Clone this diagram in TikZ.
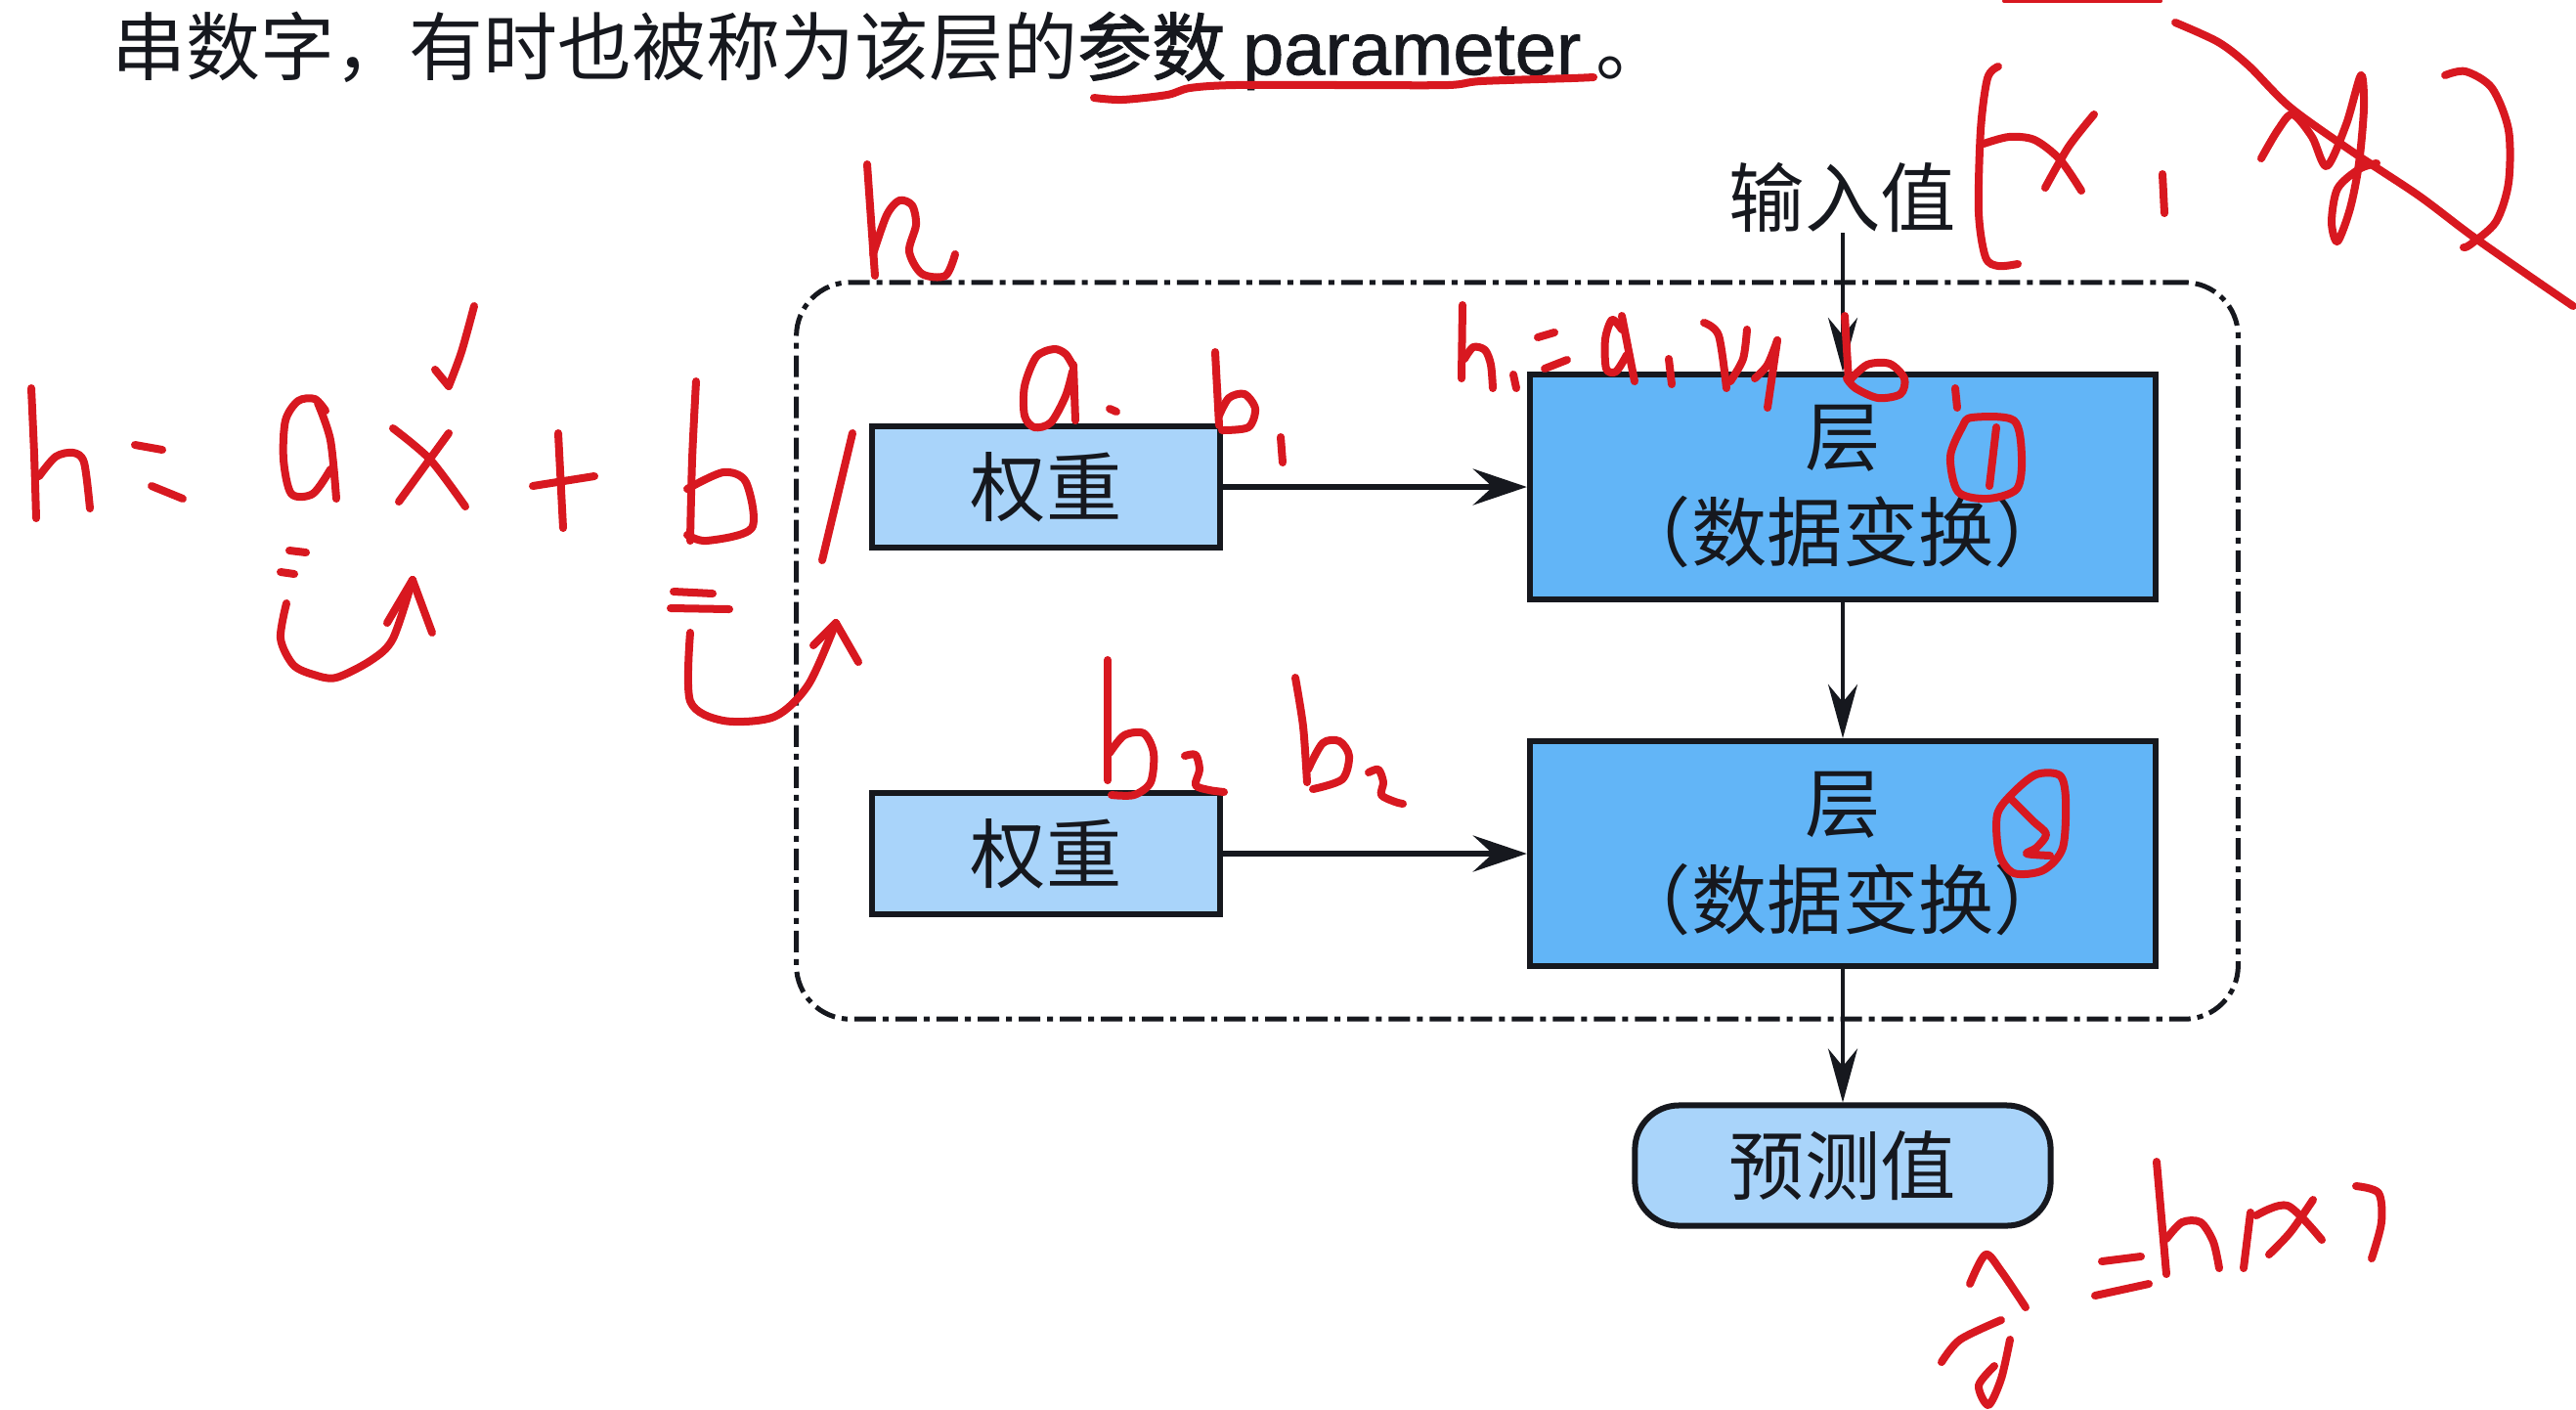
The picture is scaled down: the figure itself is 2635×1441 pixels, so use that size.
\documentclass[tikz,border=0pt]{standalone}
\usepackage{fontspec}
\setmainfont{Noto Sans CJK SC}
\newfontfamily\cjkbold[FakeBold=1.3]{Noto Sans CJK SC}
\newfontfamily\latinbold[FakeBold=1.0]{Liberation Sans}
\usetikzlibrary{arrows.meta}
\definecolor{lightblue}{RGB}{169,212,250}
\definecolor{midblue}{RGB}{98,181,247}
\definecolor{penred}{RGB}{216,24,32}
\definecolor{ink}{RGB}{22,24,30}
\begin{document}
\begin{tikzpicture}[x=0.01cm,y=-0.01cm,
  box/.style={draw=ink, line width=0.06cm, inner sep=0pt, text=ink, font=\fontsize{22}{27.9}\selectfont, align=center},
  wbox/.style={box, fill=lightblue, minimum width=3.55cm, minimum height=1.23cm},
  lbox/.style={box, fill=midblue, minimum width=6.4cm, minimum height=2.3cm},
  pbox/.style={box, fill=lightblue, minimum width=4.25cm, minimum height=1.23cm, rounded corners=0.45cm},
  group/.style={draw=ink, line width=0.05cm, dash pattern=on 0.22cm off 0.07cm on 0.06cm off 0.07cm, rounded corners=0.55cm, minimum width=14.74cm, minimum height=7.53cm},
  arr/.style={draw=ink, line width=0.035cm, -{Stealth[length=0.55cm,width=0.3cm,inset=0.18cm]}},
  harr/.style={draw=ink, line width=0.06cm, -{Stealth[length=0.55cm,width=0.37cm,inset=0.2cm]}},
  pen/.style={draw=penred, line width=0.08cm, line cap=round, line join=round},
  lbl/.style={text=ink, inner sep=0pt, font=\fontsize{22}{27.9}\selectfont},
]
\useasboundingbox (0,0) rectangle (2635,1441);
\fill[white] (0,0) rectangle (2635,1441);

% top line of text
\node[anchor=west, inner sep=0pt, text=ink, font=\fontsize{21.6}{26}\selectfont] (top) at (114,52) {串数字，有时也被称为该层的{\cjkbold 参数} {\latinbold parameter}\kern0.2em 。};

% diagram
\node[group] (grp) at (1552,665.5) {};
\node[wbox] (w1) at (1070,498) {权重};
\node[wbox] (w2) at (1070,873) {权重};
\node[lbox] (l1) at (1885,498) {层\\（数据变换）};
\node[lbox] (l2) at (1885,873) {层\\（数据变换）};
\node[pbox] (pred) at (1885,1192) {预测值};
\node[lbl] (inp) at (1885,202) {输入值};

\draw[arr] (inp) -- (l1);
\draw[arr] (l1) -- (l2);
\draw[arr] (l2) -- (pred);
\draw[harr] (w1) -- (l1);
\draw[harr] (w2) -- (l2);

% ---------- red handwriting ----------
% underline
\draw[pen] plot[smooth] coordinates {(1119,100)(1148,102)(1194,97)(1217,90)(1263,87)(1378,87)(1481,87)(1515,83)(1607,80)(1630,79)};
\draw[pen, line width=0.04cm] (2050,1) -- (2210,1);

% (x, y) crossed
\draw[pen] plot[smooth] coordinates {(2044,68)(2033,80)(2026,133)(2024,217)(2031,263)(2044,272)(2064,270)};
\draw[pen] plot[smooth] coordinates {(2029,147)(2055,140)(2081,143)(2107,163)(2129,195)};
\draw[pen] plot[smooth] coordinates {(2142,117)(2116,150)(2092,192)};
\draw[pen] (2212,178) -- (2214,218);
\draw[pen] plot[smooth, tension=0.5] coordinates {(2313,162)(2330,133)(2345,117)(2365,140)(2380,170)(2400,127)(2415,77)(2418,110)(2413,167)(2404,213)(2391,247)(2385,227)(2391,193)(2413,173)(2431,167)};
\draw[pen] plot[smooth] coordinates {(2501,77)(2522,73)(2549,90)(2566,133)(2566,187)(2553,227)(2527,250)(2520,253)};
\draw[pen] plot[smooth] coordinates {(2225,23)(2269,43)(2300,67)(2343,110)(2409,157)(2474,200)(2527,240)(2584,280)(2632,313)};

% h above group box
\draw[pen] (887,168) -- (895,282);
\draw[pen] plot[smooth] coordinates {(893,260)(907,220)(920,205)(933,210)(937,230)(930,257)(943,280)(967,282)(977,260)};

% h = a x + b
\draw[pen] plot[smooth] coordinates {(32,397)(35,465)(37,530)};
\draw[pen] plot[smooth] coordinates {(40,487)(57,467)(75,463)(86,473)(92,520)};
\draw[pen] (138,455) -- (166,460);
\draw[pen] (155,497) -- (187,510);
\draw[pen] plot[smooth] coordinates {(333,420)(322,408)(305,410)(292,430)(290,470)(298,505)(320,505)(338,480)};
\draw[pen] plot[smooth] coordinates {(325,412)(338,450)(344,510)};
\draw[pen] plot[smooth] coordinates {(402,438)(440,470)(476,518)};
\draw[pen] (459,443) -- (408,513);
\draw[pen] plot[smooth] coordinates {(485,313)(472,360)(459,395)};
\draw[pen] (459,395) -- (445,378);
\draw[pen] (571,443) -- (576,540);
\draw[pen] (545,497) -- (608,487);
\draw[pen] plot[smooth] coordinates {(712,390)(708,470)(706,553)};
\draw[pen] plot[smooth] coordinates {(703,500)(740,483)(763,493)(769,540)(723,553)(703,547)};
\draw[pen] (872,443) -- (841,573);
% under a
\draw[pen] (296,563) -- (313,565);
\draw[pen] (287,585) -- (301,587);
\draw[pen] plot[smooth] coordinates {(293,617)(287,653)(300,680)(321,690)(344,693)(380,675)(402,653)(422,593)};
\draw[pen] (422,593) -- (396,637);
\draw[pen] (422,593) -- (442,647);
% under b
\draw[pen] (689,605) -- (729,607);
\draw[pen] (686,622) -- (746,623);
\draw[pen] plot[smooth] coordinates {(706,647)(706,717)(740,737)(792,733)(827,700)(855,637)};
\draw[pen] (855,637) -- (832,660);
\draw[pen] (855,637) -- (878,677);

% a. b, above first weight box
\draw[pen] plot[smooth] coordinates {(1098,375)(1090,362)(1078,357)(1060,365)(1048,395)(1048,425)(1058,437)(1075,432)(1090,405)(1097,380)};
\draw[pen] (1098,373) -- (1100,430);
\draw[pen] (1135,418) -- (1142,421);
\draw[pen] (1243,360) -- (1247,435);
\draw[pen] plot[smooth] coordinates {(1247,425)(1257,407)(1273,403)(1284,418)(1277,437)(1250,440)};
\draw[pen] (1310,447) -- (1312,473);

% h1 = a1 x1 b1
\draw[pen] (1496,312) -- (1495,387);
\draw[pen] plot[smooth] coordinates {(1498,367)(1507,355)(1519,358)(1525,373)(1527,397)};
\draw[pen] (1548,383) -- (1551,397);
\draw[pen] (1573,345) -- (1590,340);
\draw[pen] (1580,377) -- (1603,368);
\draw[pen] plot[smooth] coordinates {(1659,337)(1649,327)(1642,347)(1643,377)(1653,380)(1664,363)};
\draw[pen] (1659,323) -- (1672,390);
\draw[pen] (1707,367) -- (1710,393);
\draw[pen] plot[smooth] coordinates {(1743,330)(1758,343)(1766,397)};
\draw[pen] plot[smooth] coordinates {(1787,337)(1783,367)(1770,390)};
\draw[pen] plot[smooth] coordinates {(1795,387)(1808,373)(1818,348)};
\draw[pen] (1818,348) -- (1808,417);
\draw[pen] (1887,323) -- (1891,390);
\draw[pen] plot[smooth] coordinates {(1891,390)(1910,373)(1933,372)(1948,387)(1944,403)(1921,407)(1898,397)(1889,387)};
\draw[pen] (2000,397) -- (2002,417);

% circled 1 and 2
\draw[pen] plot[smooth cycle] coordinates {(2017,427)(2060,430)(2068,467)(2063,500)(2033,510)(2003,503)(1995,467)(2007,437)};
\draw[pen] (2042,437) -- (2035,497);
\draw[pen] plot[smooth cycle] coordinates {(2060,810)(2083,792)(2107,793)(2113,817)(2110,867)(2090,890)(2060,893)(2045,873)(2043,833)};
\draw[pen] plot[smooth] coordinates {(2057,817)(2080,840)(2093,853)(2083,867)(2073,873)(2097,875)};

% b2 b2
\draw[pen] (1133,675) -- (1133,798);
\draw[pen] plot[smooth] coordinates {(1135,770)(1150,752)(1170,750)(1180,770)(1177,800)(1160,813)(1137,813)};
\draw[pen] plot[smooth] coordinates {(1212,773)(1223,772)(1227,787)(1223,803)(1237,808)(1252,810)};
\draw[pen] plot[smooth] coordinates {(1325,693)(1333,743)(1337,800)};
\draw[pen] plot[smooth] coordinates {(1338,787)(1353,760)(1370,758)(1380,773)(1373,797)(1343,807)};
\draw[pen] plot[smooth] coordinates {(1400,790)(1410,787)(1415,800)(1413,813)(1427,820)(1435,822)};

% y hat = h(x)
\draw[pen] plot[smooth] coordinates {(2015,1313)(2031,1283)(2047,1300)(2072,1337)};
\draw[pen] plot[smooth] coordinates {(1986,1393)(2005,1370)(2047,1350)};
\draw[pen] plot[smooth] coordinates {(2056,1370)(2047,1410)(2034,1437)(2024,1417)(2040,1397)};
\draw[pen] (2150,1290) -- (2190,1285);
\draw[pen] (2143,1325) -- (2198,1313);
\draw[pen] (2206,1188) -- (2216,1303);
\draw[pen] plot[smooth] coordinates {(2216,1267)(2232,1250)(2251,1250)(2264,1270)(2270,1297)};
\draw[pen] (2302,1240) -- (2295,1297);
\draw[pen] plot[smooth] coordinates {(2308,1243)(2340,1233)(2375,1268)};
\draw[pen] plot[smooth] coordinates {(2366,1227)(2343,1260)(2321,1283)};
\draw[pen] plot[smooth] coordinates {(2410,1213)(2433,1220)(2436,1250)(2426,1287)};
\end{tikzpicture}
\end{document}
